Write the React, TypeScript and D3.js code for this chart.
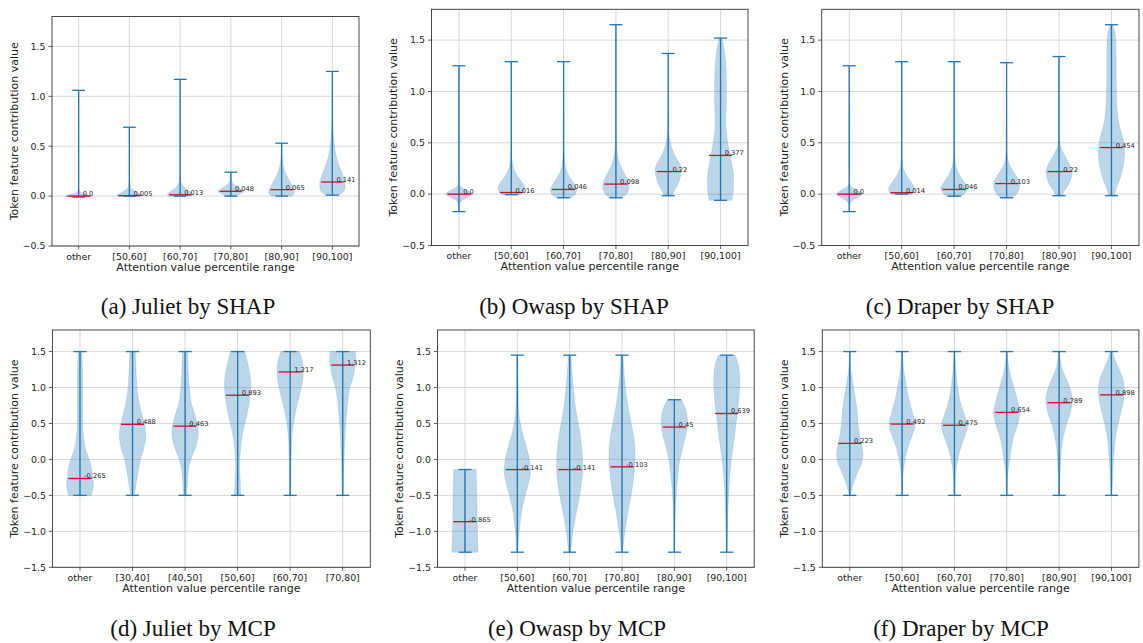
import React from "react";
import * as d3 from "d3";

type Prof = [number, number][];

// ---------- (a) Juliet by SHAP ----------
const catsA = ["other", "[50,60]", "[60,70]", "[70,80]", "[80,90]", "[90,100]"];
const minA = [-0.01, 0.0, 0.0, 0.0, 0.0, 0.01];
const maxA = [1.06, 0.69, 1.17, 0.24, 0.53, 1.25];
const medA = [0.0, 0.005, 0.013, 0.048, 0.065, 0.141];
const profA: Prof[] = [
  [[-0.01, 0.6], [0.0, 1.0], [0.012, 0.75], [0.03, 0.25], [0.06, 0.04], [0.15, 0.01], [1.06, 0.005]],
  [[0.0, 0.85], [0.01, 1.0], [0.03, 0.7], [0.06, 0.3], [0.09, 0.1], [0.15, 0.03], [0.3, 0.01], [0.69, 0.005]],
  [[0.0, 0.9], [0.02, 1.0], [0.05, 0.7], [0.08, 0.4], [0.12, 0.15], [0.16, 0.05], [0.3, 0.02], [0.6, 0.01], [1.17, 0.005]],
  [[0.0, 0.35], [0.02, 0.7], [0.045, 1.0], [0.07, 0.8], [0.1, 0.45], [0.13, 0.15], [0.17, 0.04], [0.24, 0.01]],
  [[0.0, 0.8], [0.03, 1.0], [0.07, 0.95], [0.12, 0.75], [0.18, 0.5], [0.25, 0.25], [0.33, 0.1], [0.42, 0.04], [0.53, 0.01]],
  [[0.01, 0.55], [0.05, 0.9], [0.12, 1.0], [0.2, 0.85], [0.3, 0.55], [0.4, 0.3], [0.5, 0.18], [0.6, 0.1], [0.75, 0.04], [0.9, 0.015], [1.25, 0.005]],
];

// ---------- (b) Owasp by SHAP ----------
const catsB = ["other", "[50,60]", "[60,70]", "[70,80]", "[80,90]", "[90,100]"];
const minB = [-0.17, -0.005, -0.035, -0.035, -0.015, -0.06];
const maxB = [1.25, 1.29, 1.29, 1.65, 1.37, 1.52];
const medB = [0.0, 0.016, 0.046, 0.098, 0.22, 0.377];
const profB: Prof[] = [
  [[-0.17, 0.005], [-0.1, 0.03], [-0.06, 0.25], [-0.03, 0.65], [0.0, 1.0], [0.03, 0.7], [0.06, 0.3], [0.09, 0.06], [0.15, 0.01], [1.25, 0.005]],
  [[-0.005, 0.7], [0.03, 0.95], [0.07, 1.0], [0.12, 0.8], [0.18, 0.45], [0.25, 0.18], [0.32, 0.07], [0.45, 0.02], [0.7, 0.008], [1.29, 0.004]],
  [[-0.035, 0.55], [0.0, 0.9], [0.05, 1.0], [0.1, 0.8], [0.16, 0.5], [0.22, 0.25], [0.3, 0.1], [0.4, 0.04], [0.6, 0.015], [1.29, 0.004]],
  [[-0.035, 0.5], [0.0, 0.8], [0.06, 1.0], [0.12, 0.95], [0.2, 0.65], [0.28, 0.35], [0.36, 0.15], [0.45, 0.06], [0.6, 0.025], [0.9, 0.01], [1.65, 0.004]],
  [[-0.015, 0.3], [0.03, 0.45], [0.1, 0.75], [0.18, 0.95], [0.24, 1.0], [0.3, 0.85], [0.38, 0.5], [0.46, 0.25], [0.55, 0.1], [0.65, 0.04], [0.9, 0.012], [1.37, 0.004]],
  [[-0.06, 0.85], [0.0, 0.95], [0.1, 1.0], [0.2, 0.98], [0.3, 0.85], [0.4, 0.7], [0.5, 0.55], [0.6, 0.45], [0.7, 0.42], [0.9, 0.45], [1.1, 0.45], [1.3, 0.38], [1.45, 0.22], [1.52, 0.1]],
];

// ---------- (c) Draper by SHAP ----------
const catsC = ["other", "[50,60]", "[60,70]", "[70,80]", "[80,90]", "[90,100]"];
const minC = [-0.17, 0.0, -0.02, -0.035, -0.015, -0.015];
const maxC = [1.25, 1.29, 1.29, 1.28, 1.34, 1.65];
const medC = [0.0, 0.014, 0.046, 0.103, 0.22, 0.454];
const profC: Prof[] = [
  [[-0.17, 0.005], [-0.1, 0.03], [-0.06, 0.25], [-0.03, 0.65], [0.0, 1.0], [0.03, 0.7], [0.06, 0.3], [0.09, 0.06], [0.15, 0.01], [1.25, 0.005]],
  [[0.0, 0.75], [0.04, 1.0], [0.08, 0.9], [0.13, 0.65], [0.18, 0.38], [0.24, 0.15], [0.3, 0.06], [0.4, 0.02], [0.7, 0.008], [1.29, 0.004]],
  [[-0.02, 0.55], [0.02, 0.9], [0.06, 1.0], [0.11, 0.8], [0.17, 0.5], [0.23, 0.25], [0.3, 0.1], [0.4, 0.04], [0.6, 0.015], [1.29, 0.004]],
  [[-0.035, 0.45], [0.0, 0.75], [0.05, 0.95], [0.1, 1.0], [0.16, 0.8], [0.22, 0.5], [0.28, 0.25], [0.34, 0.1], [0.45, 0.03], [0.7, 0.01], [1.28, 0.004]],
  [[-0.015, 0.2], [0.03, 0.4], [0.1, 0.75], [0.17, 0.95], [0.22, 1.0], [0.28, 0.85], [0.35, 0.55], [0.42, 0.25], [0.48, 0.08], [0.6, 0.02], [0.9, 0.008], [1.34, 0.004]],
  [[-0.015, 0.2], [0.05, 0.35], [0.15, 0.65], [0.25, 0.85], [0.38, 1.0], [0.5, 0.95], [0.6, 0.75], [0.7, 0.55], [0.85, 0.42], [1.0, 0.38], [1.2, 0.36], [1.4, 0.35], [1.55, 0.28], [1.65, 0.1]],
];

// ---------- (d) Juliet by MCP ----------
const catsD = ["other", "[30,40]", "[40,50]", "[50,60]", "[60,70]", "[70,80]"];
const minD = [-0.5, -0.5, -0.5, -0.5, -0.5, -0.5];
const maxD = [1.5, 1.5, 1.5, 1.5, 1.5, 1.5];
const medD = [-0.265, 0.488, 0.463, 0.893, 1.217, 1.312];
const profD: Prof[] = [
  [[-0.5, 0.85], [-0.4, 1.0], [-0.3, 1.0], [-0.2, 0.95], [-0.1, 0.85], [0.0, 0.7], [0.1, 0.5], [0.2, 0.35], [0.3, 0.28], [0.45, 0.22], [0.7, 0.2], [1.0, 0.2], [1.3, 0.18], [1.5, 0.15]],
  [[-0.5, 0.15], [-0.4, 0.22], [-0.2, 0.4], [0.0, 0.6], [0.15, 0.85], [0.3, 1.0], [0.45, 0.95], [0.6, 0.75], [0.75, 0.55], [0.9, 0.4], [1.1, 0.3], [1.3, 0.25], [1.5, 0.22]],
  [[-0.5, 0.12], [-0.3, 0.18], [-0.1, 0.3], [0.05, 0.55], [0.2, 0.85], [0.35, 1.0], [0.5, 0.92], [0.65, 0.7], [0.8, 0.45], [1.0, 0.32], [1.2, 0.25], [1.5, 0.2]],
  [[-0.5, 0.25], [-0.3, 0.2], [-0.1, 0.15], [0.1, 0.2], [0.3, 0.32], [0.5, 0.55], [0.7, 0.8], [0.9, 0.95], [1.05, 1.0], [1.2, 0.92], [1.35, 0.75], [1.5, 0.55]],
  [[-0.5, 0.05], [0.0, 0.08], [0.3, 0.13], [0.5, 0.25], [0.7, 0.45], [0.9, 0.72], [1.05, 0.9], [1.2, 1.0], [1.35, 0.95], [1.5, 0.7]],
  [[-0.5, 0.04], [0.0, 0.1], [0.4, 0.2], [0.6, 0.28], [0.8, 0.38], [1.0, 0.55], [1.15, 0.8], [1.3, 0.95], [1.42, 1.0], [1.5, 0.95]],
];

// ---------- (e) Owasp by MCP ----------
const catsE = ["other", "[50,60]", "[60,70]", "[70,80]", "[80,90]", "[90,100]"];
const minE = [-1.29, -1.29, -1.29, -1.29, -1.29, -1.29];
const maxE = [-0.14, 1.45, 1.45, 1.45, 0.83, 1.45];
const medE = [-0.865, -0.141, -0.141, -0.103, 0.45, 0.639];
const profE: Prof[] = [
  [[-1.29, 1.0], [-1.1, 0.97], [-0.8, 0.93], [-0.5, 0.9], [-0.3, 0.88], [-0.14, 0.85]],
  [[-1.29, 0.05], [-1.0, 0.15], [-0.7, 0.35], [-0.5, 0.6], [-0.3, 0.9], [-0.15, 1.0], [0.0, 0.92], [0.2, 0.65], [0.4, 0.35], [0.6, 0.15], [0.9, 0.08], [1.2, 0.05], [1.45, 0.04]],
  [[-1.29, 0.08], [-1.0, 0.25], [-0.7, 0.55], [-0.4, 0.85], [-0.15, 1.0], [0.1, 0.95], [0.35, 0.8], [0.6, 0.55], [0.9, 0.33], [1.2, 0.18], [1.45, 0.1]],
  [[-1.29, 0.05], [-1.0, 0.22], [-0.7, 0.48], [-0.4, 0.78], [-0.15, 0.95], [0.05, 1.0], [0.3, 0.9], [0.55, 0.65], [0.8, 0.4], [1.1, 0.2], [1.45, 0.08]],
  [[-1.29, 0.03], [-0.8, 0.07], [-0.5, 0.14], [-0.2, 0.28], [0.0, 0.42], [0.2, 0.68], [0.4, 0.95], [0.55, 1.0], [0.7, 0.85], [0.83, 0.55]],
  [[-1.29, 0.03], [-0.8, 0.08], [-0.4, 0.18], [0.0, 0.35], [0.3, 0.58], [0.6, 0.78], [0.9, 0.95], [1.1, 1.0], [1.3, 0.9], [1.45, 0.65]],
];

// ---------- (f) Draper by MCP ----------
const catsF = ["other", "[50,60]", "[60,70]", "[70,80]", "[80,90]", "[90,100]"];
const minF = [-0.5, -0.5, -0.5, -0.5, -0.5, -0.5];
const maxF = [1.5, 1.5, 1.5, 1.5, 1.5, 1.5];
const medF = [0.223, 0.492, 0.475, 0.654, 0.789, 0.898];
const profF: Prof[] = [
  [[-0.5, 0.05], [-0.35, 0.25], [-0.2, 0.55], [-0.05, 0.9], [0.08, 1.0], [0.25, 0.85], [0.45, 0.65], [0.7, 0.55], [0.9, 0.38], [1.1, 0.2], [1.3, 0.06], [1.5, 0.02]],
  [[-0.5, 0.03], [-0.2, 0.08], [0.0, 0.22], [0.2, 0.5], [0.4, 0.9], [0.5, 1.0], [0.65, 0.8], [0.85, 0.5], [1.05, 0.3], [1.25, 0.12], [1.5, 0.03]],
  [[-0.5, 0.04], [-0.2, 0.1], [0.0, 0.25], [0.2, 0.55], [0.35, 0.85], [0.47, 1.0], [0.6, 0.8], [0.8, 0.45], [1.0, 0.25], [1.25, 0.1], [1.5, 0.03]],
  [[-0.5, 0.03], [-0.2, 0.08], [0.0, 0.22], [0.3, 0.5], [0.5, 0.85], [0.65, 1.0], [0.8, 0.85], [1.0, 0.55], [1.2, 0.25], [1.35, 0.1], [1.5, 0.04]],
  [[-0.5, 0.03], [-0.1, 0.1], [0.2, 0.22], [0.45, 0.5], [0.65, 0.85], [0.8, 1.0], [0.95, 0.9], [1.1, 0.6], [1.25, 0.25], [1.4, 0.08], [1.5, 0.03]],
  [[-0.5, 0.03], [-0.2, 0.1], [0.1, 0.2], [0.35, 0.35], [0.6, 0.65], [0.8, 0.9], [0.95, 1.0], [1.1, 0.9], [1.25, 0.6], [1.4, 0.25], [1.5, 0.08]],
];

const yticksTop = [-0.5, 0.0, 0.5, 1.0, 1.5];
const yticksBottom = [-1.5, -1.0, -0.5, 0.0, 0.5, 1.0, 1.5];
const ylimTop: [number, number] = [-0.5, 1.8];
const ylimBottom: [number, number] = [-1.5, 1.8];

const C0 = "#1f77b4";
const MED = "#c8102e";
const SANS = "DejaVu Sans, Verdana, sans-serif";
const SERIF = "Liberation Serif, 'Times New Roman', serif";

type PanelProps = {
  frame: [number, number, number, number];
  ylim: [number, number];
  yticks: number[];
  cats: string[];
  mins: number[];
  maxs: number[];
  meds: number[];
  profs: Prof[];
  caption: string;
  capX: number;
  capY: number;
};

function fmtMed(v: number) {
  return v === 0 ? "0.0" : String(v);
}

function Panel(p: PanelProps) {
  const [fx0, fx1, fy0, fy1] = p.frame;
  const positions = p.cats.map((_, i) => i + 1);
  const x = d3.scaleLinear().domain([0.475, 6.525]).range([fx0, fx1]);
  const y = d3.scaleLinear().domain(p.ylim).range([fy1, fy0]);
  const hw = x(1.25) - x(1);
  const capHw = x(1.125) - x(1);
  const medHw = x(1.22) - x(1);
  const fmt = d3.format(".1f");
  return (
    <g>
      {/* grid */}
      {p.yticks.map((t) => (
        <line key={"gy" + t} x1={fx0} x2={fx1} y1={y(t)} y2={y(t)} stroke="#d4d4d4" strokeWidth={0.9} />
      ))}
      {positions.map((pos) => (
        <line key={"gx" + pos} x1={x(pos)} x2={x(pos)} y1={fy0} y2={fy1} stroke="#d4d4d4" strokeWidth={0.9} />
      ))}
      {/* violins */}
      {p.profs.map((prof, i) => {
        const cx = x(positions[i]);
        const area = d3
          .area<[number, number]>()
          .y((d) => y(d[0]))
          .x0((d) => cx - d[1] * hw)
          .x1((d) => cx + d[1] * hw)
          .curve(d3.curveCatmullRom.alpha(0.5));
        return (
          <path key={"v" + i} d={area(prof) || ""} fill={C0} fillOpacity={0.3} stroke={C0} strokeOpacity={0.3} strokeWidth={0.5} />
        );
      })}
      {/* bars and caps */}
      {positions.map((pos, i) => {
        const cx = x(pos);
        return (
          <g key={"b" + i} stroke={C0} strokeWidth={1.3}>
            <line x1={cx} x2={cx} y1={y(p.mins[i])} y2={y(p.maxs[i])} />
            <line x1={cx - capHw} x2={cx + capHw} y1={y(p.mins[i])} y2={y(p.mins[i])} />
            <line x1={cx - capHw} x2={cx + capHw} y1={y(p.maxs[i])} y2={y(p.maxs[i])} />
          </g>
        );
      })}
      {/* medians */}
      {positions.map((pos, i) => {
        const cx = x(pos);
        return (
          <g key={"m" + i}>
            <line x1={cx - medHw} x2={cx + medHw} y1={y(p.meds[i])} y2={y(p.meds[i])} stroke={MED} strokeWidth={1.3} />
            <text x={x(pos + 0.08)} y={y(p.meds[i])} fontSize={6.7} fontFamily={SANS} fill="#222">
              {fmtMed(p.meds[i])}
            </text>
          </g>
        );
      })}
      {/* frame */}
      <rect x={fx0} y={fy0} width={fx1 - fx0} height={fy1 - fy0} fill="none" stroke="#333" strokeWidth={0.9} />
      {/* y ticks */}
      {p.yticks.map((t) => (
        <g key={"yt" + t}>
          <line x1={fx0 - 3.5} x2={fx0} y1={y(t)} y2={y(t)} stroke="#333" strokeWidth={0.8} />
          <text x={fx0 - 6.5} y={y(t)} dy="0.35em" textAnchor="end" fontSize={9.4} fontFamily={SANS} fill="#222">
            {fmt(t)}
          </text>
        </g>
      ))}
      {/* x ticks */}
      {positions.map((pos, i) => (
        <g key={"xt" + pos}>
          <line x1={x(pos)} x2={x(pos)} y1={fy1} y2={fy1 + 3.5} stroke="#333" strokeWidth={0.8} />
          <text x={x(pos)} y={fy1 + 13.5} textAnchor="middle" fontSize={9.4} fontFamily={SANS} fill="#222">
            {p.cats[i]}
          </text>
        </g>
      ))}
      {/* axis labels */}
      <text x={(fx0 + fx1) / 2} y={fy1 + 24.5} textAnchor="middle" fontSize={11} fontFamily={SANS} fill="#222">
        Attention value percentile range
      </text>
      <text
        transform={`translate(${fx0 - 38},${(fy0 + fy1) / 2}) rotate(-90)`}
        textAnchor="middle"
        dy="0.35em"
        fontSize={11}
        fontFamily={SANS}
        fill="#222"
      >
        Token feature contribution value
      </text>
      {/* caption */}
      <text x={p.capX} y={p.capY} textAnchor="middle" fontSize={23} fontFamily={SERIF} fill="#111">
        {p.caption}
      </text>
    </g>
  );
}

export default function App() {
  return (
    <svg
      width={1143}
      height={643}
      viewBox="0 0 1143 643"
      style={{ position: "absolute", left: 0, top: 0, background: "#fff" }}
    >
      <rect x={0} y={0} width={1143} height={643} fill="#fff" />
      <Panel frame={[52, 359, 16.5, 246]} ylim={ylimTop} yticks={yticksTop} cats={catsA} mins={minA} maxs={maxA} meds={medA} profs={profA} caption="(a) Juliet by SHAP" capX={188} capY={314} />
      <Panel frame={[431.5, 748, 9.3, 245.5]} ylim={ylimTop} yticks={yticksTop} cats={catsB} mins={minB} maxs={maxB} meds={medB} profs={profB} caption="(b) Owasp by SHAP" capX={574} capY={314} />
      <Panel frame={[821.7, 1139, 9.3, 245.5]} ylim={ylimTop} yticks={yticksTop} cats={catsC} mins={minC} maxs={maxC} meds={medC} profs={profC} caption="(c) Draper by SHAP" capX={960} capY={314} />
      <Panel frame={[52.4, 370.3, 330, 567.3]} ylim={ylimBottom} yticks={yticksBottom} cats={catsD} mins={minD} maxs={maxD} meds={medD} profs={profD} caption="(d) Juliet by MCP" capX={193} capY={636} />
      <Panel frame={[437.5, 754.2, 330, 567.3]} ylim={ylimBottom} yticks={yticksBottom} cats={catsE} mins={minE} maxs={maxE} meds={medE} profs={profE} caption="(e) Owasp by MCP" capX={577} capY={636} />
      <Panel frame={[822.3, 1138.9, 330, 567.3]} ylim={ylimBottom} yticks={yticksBottom} cats={catsF} mins={minF} maxs={maxF} meds={medF} profs={profF} caption="(f) Draper by MCP" capX={961} capY={636} />
    </svg>
  );
}
